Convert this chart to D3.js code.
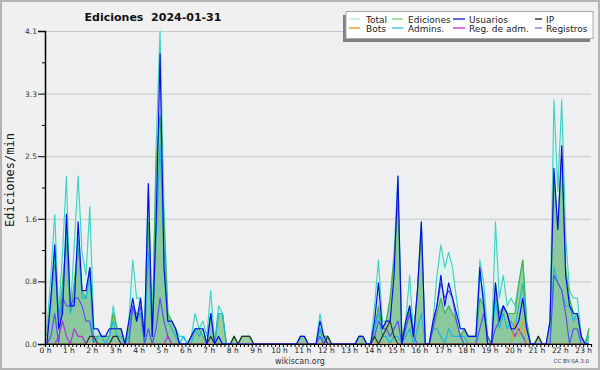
<!DOCTYPE html>
<html>
<head>
<meta charset="utf-8">
<script src="https://cdn.jsdelivr.net/npm/d3@7"></script>
<style>
  body { margin: 0; background: #f0f0f0; }
  svg { display: block; }
</style>
</head>
<body>
<div id="chart"></div>
<script>
// one value per 10-minute bin, 0:00 .. 23:10 (edits per minute)
const slots = d3.range(0, 1400, 10);

const total = [
  0.2, 0.9, 1.7, 0.4, 1.2, 2.2, 0.4, 1.3, 2.2, 1.2, 0.9, 1.8,
  0.2, 0.2, 0.1, 0.1, 0.1, 0.5, 0.2, 0.2, 0.0, 0.3, 1.1, 0.6,
  0.6, 0.1, 2.1, 0.1, 2.6, 4.1, 1.8, 0.4, 0.3, 0.2, 0.1, 0.1,
  0.0, 0.1, 0.4, 0.2, 0.3, 0.1, 0.7, 0.0, 0.5, 0.4, 0.0, 0.0,
  0.1, 0.0, 0.1, 0.1, 0.1, 0.0, 0.0, 0.0, 0.0, 0.0, 0.0, 0.0,
  0.0, 0.0, 0.0, 0.0, 0.0, 0.1, 0.1, 0.0, 0.0, 0.0, 0.4, 0.1,
  0.1, 0.0, 0.0, 0.0, 0.0, 0.0, 0.0, 0.0, 0.1, 0.1, 0.0, 0.0,
  0.5, 1.1, 0.3, 0.3, 0.6, 1.2, 2.2, 0.1, 0.3, 0.9, 0.1, 0.7,
  1.6, 0.0, 0.0, 0.3, 0.9, 1.3, 1.0, 1.2, 1.0, 0.6, 0.2, 0.2,
  0.1, 0.1, 0.1, 1.1, 0.8, 0.1, 0.0, 1.6, 0.6, 0.9, 0.5, 0.6,
  0.5, 0.8, 1.1, 0.3, 0.0, 0.0, 0.1, 0.0, 0.0, 0.3, 3.2, 2.0,
  3.2, 1.4, 0.7, 0.6, 0.6, 0.1, 0.0, 0.2
];
const ediciones = [
  0.1, 0.6, 1.1, 0.3, 0.8, 1.4, 0.4, 0.8, 1.3, 0.7, 0.6, 1.0,
  0.1, 0.1, 0.1, 0.1, 0.1, 0.4, 0.2, 0.2, 0.0, 0.2, 0.5, 0.4,
  0.4, 0.1, 1.6, 0.1, 2.4, 3.0, 1.6, 0.4, 0.3, 0.2, 0.0, 0.0,
  0.0, 0.1, 0.2, 0.2, 0.1, 0.0, 0.4, 0.0, 0.4, 0.4, 0.0, 0.0,
  0.1, 0.0, 0.1, 0.1, 0.1, 0.0, 0.0, 0.0, 0.0, 0.0, 0.0, 0.0,
  0.0, 0.0, 0.0, 0.0, 0.0, 0.1, 0.1, 0.0, 0.0, 0.0, 0.2, 0.1,
  0.1, 0.0, 0.0, 0.0, 0.0, 0.0, 0.0, 0.0, 0.1, 0.1, 0.0, 0.0,
  0.2, 0.5, 0.2, 0.3, 0.6, 1.1, 1.9, 0.1, 0.2, 0.5, 0.1, 0.7,
  1.5, 0.0, 0.0, 0.2, 0.4, 0.6, 0.4, 0.5, 0.4, 0.3, 0.1, 0.2,
  0.1, 0.1, 0.1, 0.6, 0.5, 0.1, 0.0, 0.8, 0.4, 0.5, 0.4, 0.4,
  0.4, 0.8, 1.1, 0.3, 0.0, 0.0, 0.1, 0.0, 0.0, 0.3, 2.2, 1.5,
  2.5, 1.0, 0.6, 0.4, 0.4, 0.1, 0.0, 0.2
];
const usuarios = [
  0.0, 0.6, 1.3, 0.2, 0.4, 1.7, 0.5, 0.5, 1.6, 0.7, 0.7, 1.0,
  0.2, 0.2, 0.1, 0.1, 0.2, 0.2, 0.2, 0.2, 0.0, 0.3, 0.6, 0.3,
  0.6, 0.1, 2.1, 0.1, 1.6, 3.8, 1.0, 0.3, 0.3, 0.2, 0.0, 0.0,
  0.0, 0.1, 0.2, 0.2, 0.2, 0.0, 0.4, 0.0, 0.1, 0.0, 0.0, 0.0,
  0.0, 0.0, 0.0, 0.0, 0.0, 0.0, 0.0, 0.0, 0.0, 0.0, 0.0, 0.0,
  0.0, 0.0, 0.0, 0.0, 0.0, 0.1, 0.1, 0.0, 0.0, 0.0, 0.3, 0.1,
  0.0, 0.0, 0.0, 0.0, 0.0, 0.0, 0.0, 0.0, 0.1, 0.1, 0.0, 0.0,
  0.3, 0.8, 0.2, 0.3, 0.3, 0.9, 2.2, 0.0, 0.3, 0.5, 0.1, 0.7,
  1.6, 0.0, 0.0, 0.3, 0.5, 0.9, 0.5, 0.8, 0.6, 0.4, 0.2, 0.2,
  0.1, 0.1, 0.1, 1.0, 0.5, 0.0, 0.0, 0.8, 0.3, 0.5, 0.4, 0.2,
  0.2, 0.3, 0.6, 0.2, 0.0, 0.0, 0.0, 0.0, 0.0, 0.3, 2.3, 1.5,
  2.6, 0.9, 0.5, 0.4, 0.4, 0.1, 0.0, 0.0
];
const ip = [
  0.0, 0.0, 0.0, 0.0, 0.0, 0.0, 0.0, 0.0, 0.0, 0.0, 0.0, 0.1,
  0.1, 0.0, 0.0, 0.0, 0.0, 0.1, 0.1, 0.0, 0.0, 0.0, 0.0, 0.0,
  0.0, 0.0, 0.0, 0.0, 0.0, 0.0, 0.0, 0.0, 0.0, 0.0, 0.0, 0.0,
  0.0, 0.0, 0.0, 0.0, 0.0, 0.0, 0.1, 0.0, 0.0, 0.0, 0.0, 0.0,
  0.1, 0.0, 0.1, 0.1, 0.1, 0.0, 0.0, 0.0, 0.0, 0.0, 0.0, 0.0,
  0.0, 0.0, 0.0, 0.0, 0.0, 0.0, 0.0, 0.0, 0.0, 0.0, 0.0, 0.0,
  0.1, 0.0, 0.0, 0.0, 0.0, 0.0, 0.0, 0.0, 0.0, 0.0, 0.0, 0.0,
  0.1, 0.0, 0.1, 0.2, 0.3, 0.1, 0.0, 0.0, 0.0, 0.0, 0.0, 0.0,
  0.0, 0.0, 0.0, 0.0, 0.0, 0.0, 0.0, 0.0, 0.0, 0.0, 0.0, 0.0,
  0.0, 0.0, 0.0, 0.0, 0.0, 0.0, 0.0, 0.0, 0.0, 0.0, 0.0, 0.0,
  0.0, 0.0, 0.0, 0.0, 0.0, 0.0, 0.1, 0.0, 0.0, 0.0, 0.0, 0.0,
  0.0, 0.0, 0.0, 0.0, 0.0, 0.0, 0.0, 0.0
];
const bots = [
  0, 0, 0, 0, 0, 0, 0, 0, 0, 0, 0, 0, 0, 0, 0, 0, 0, 0, 0, 0,
  0, 0, 0, 0, 0, 0, 0, 0, 0, 0, 0, 0, 0, 0, 0, 0, 0, 0, 0, 0,
  0, 0, 0, 0, 0, 0, 0, 0, 0, 0, 0, 0, 0, 0, 0, 0, 0, 0, 0, 0,
  0, 0, 0, 0, 0, 0, 0, 0, 0, 0, 0, 0, 0, 0, 0, 0, 0, 0, 0, 0,
  0, 0, 0, 0, 0, 0, 0, 0, 0, 0, 0, 0, 0, 0, 0, 0, 0, 0, 0, 0,
  0, 0, 0, 0, 0, 0, 0, 0, 0, 0, 0, 0, 0, 0, 0, 0, 0, 0, 0, 0,
  0.3, 0.1, 0.3, 0.0, 0, 0, 0, 0, 0, 0, 0, 0, 0, 0, 0, 0, 0, 0, 0, 0
];
const admins = [
  0.1, 0.5, 1.2, 0.3, 0.6, 1.5, 0.4, 0.6, 1.4, 0.6, 0.6, 0.9,
  0.0, 0.1, 0.1, 0.0, 0.1, 0.3, 0.1, 0.1, 0.0, 0.1, 0.5, 0.3,
  0.4, 0.0, 1.2, 0.1, 1.4, 2.6, 1.3, 0.3, 0.2, 0.1, 0.0, 0.1,
  0.0, 0.0, 0.2, 0.1, 0.2, 0.0, 0.4, 0.0, 0.4, 0.4, 0.0, 0.0,
  0.0, 0.0, 0.0, 0.0, 0.0, 0.0, 0.0, 0.0, 0.0, 0.0, 0.0, 0.0,
  0.0, 0.0, 0.0, 0.0, 0.0, 0.0, 0.0, 0.0, 0.0, 0.0, 0.2, 0.0,
  0.0, 0.0, 0.0, 0.0, 0.0, 0.0, 0.0, 0.0, 0.0, 0.0, 0.0, 0.0,
  0.2, 0.4, 0.1, 0.1, 0.0, 0.1, 0.1, 0.0, 0.1, 0.2, 0.0, 0.2,
  0.4, 0.0, 0.0, 0.2, 0.2, 0.1, 0.0, 0.2, 0.1, 0.1, 0.1, 0.1,
  0.0, 0.0, 0.0, 0.9, 0.6, 0.0, 0.0, 0.6, 0.2, 0.4, 0.2, 0.3,
  0.2, 0.5, 0.8, 0.2, 0.0, 0.0, 0.0, 0.0, 0.0, 0.0, 1.0, 0.8,
  0.7, 0.5, 0.5, 0.3, 0.4, 0.1, 0.0, 0.1
];
const regAdm = [
  0.0, 0.0, 0.0, 0.1, 0.3, 0.1, 0.0, 0.2, 0.1, 0.1, 0.0, 0.0,
  0, 0, 0, 0, 0, 0, 0, 0, 0, 0, 0, 0, 0, 0, 0, 0, 0, 0, 0, 0.1,
  0, 0, 0, 0, 0, 0, 0, 0, 0, 0, 0, 0, 0, 0, 0, 0, 0, 0, 0, 0,
  0, 0, 0, 0, 0, 0, 0, 0, 0, 0, 0, 0, 0, 0, 0, 0, 0, 0, 0, 0,
  0, 0, 0, 0, 0, 0, 0, 0, 0, 0, 0, 0, 0, 0, 0, 0, 0, 0, 0, 0,
  0, 0, 0, 0, 0, 0, 0, 0, 0, 0, 0, 0, 0, 0, 0, 0, 0, 0, 0, 0,
  0, 0, 0, 0, 0, 0, 0, 0, 0, 0, 0, 0, 0, 0, 0, 0
];
const registros = [
  0.0, 0.1, 0.4, 0.0, 0.6, 0.5, 0.5, 0.6, 0.6, 0.5, 0.3, 0.3,
  0.0, 0.0, 0.0, 0.0, 0.0, 0.0, 0.0, 0.0, 0.0, 0.0, 0.5, 0.3,
  0.5, 0.0, 0.2, 0.0, 0.2, 0.6, 0.3, 0.1, 0.0, 0.0, 0.0, 0.0,
  0.0, 0.0, 0.0, 0.0, 0.0, 0.0, 0.0, 0.0, 0.0, 0.0, 0.0, 0.0,
  0.0, 0.0, 0.0, 0.0, 0.0, 0.0, 0.0, 0.0, 0.0, 0.0, 0.0, 0.0,
  0.0, 0.0, 0.0, 0.0, 0.0, 0.0, 0.0, 0.0, 0.0, 0.0, 0.1, 0.0,
  0.0, 0.0, 0.0, 0.0, 0.0, 0.0, 0.0, 0.0, 0.0, 0.0, 0.0, 0.0,
  0.1, 0.3, 0.2, 0.2, 0.1, 0.2, 0.3, 0.0, 0.2, 0.4, 0.1, 0.0,
  0.0, 0.0, 0.0, 0.2, 0.5, 0.8, 0.6, 0.7, 0.6, 0.3, 0.1, 0.0,
  0.0, 0.0, 0.0, 0.2, 0.4, 0.1, 0.0, 0.2, 0.3, 0.5, 0.4, 0.2,
  0.1, 0.2, 0.1, 0.0, 0.0, 0.0, 0.0, 0.0, 0.0, 0.0, 0.9, 0.8,
  0.7, 0.4, 0.0, 0.2, 0.2, 0.0, 0.0, 0.0
];

const hourLabels = ['0 h', '1 h', '2 h', '3 h', '4 h', '5 h', '6 h', '7 h', '8 h', '9 h',
  '10 h', '11 h', '12 h', '13 h', '14 h', '15 h', '16 h', '17 h', '18 h', '19 h',
  '20 h', '21 h', '22 h', '23 h'];
const yTicks = [0, 0.82, 1.64, 2.46, 3.28, 4.1];
const yMinor = [0.41, 1.23, 2.05, 2.87, 3.69];

const legendItems = [
  { name: 'Total', color: '#b4ece4', col: 0, row: 0 },
  { name: 'Ediciones', color: '#88d488', col: 1, row: 0 },
  { name: 'Usuarios', color: '#3434dc', col: 2, row: 0 },
  { name: 'IP', color: '#333333', col: 3, row: 0 },
  { name: 'Bots', color: '#f4a030', col: 0, row: 1 },
  { name: 'Admins.', color: '#44cce0', col: 1, row: 1 },
  { name: 'Reg. de adm.', color: '#d044e0', col: 2, row: 1 },
  { name: 'Registros', color: '#8484ee', col: 3, row: 1 }
];

const w = 600, h = 370;
const plotL = 45, plotR = 591, plotT = 31, plotB = 344;

const svg = d3.select('#chart').append('svg')
  .attr('width', w)
  .attr('height', h);

svg.append('rect')
  .attr('x', 1).attr('y', 1)
  .attr('width', w - 2).attr('height', h - 2)
  .attr('fill', '#f0f0f0')
  .attr('stroke', '#b4b4b4')
  .attr('stroke-width', 2);

const x = d3.scaleLinear().domain([0, 1400]).range([plotL, plotR]);
const y = d3.scaleLinear().domain([0, 4.1]).range([plotB, plotT]);

svg.append('rect')
  .attr('x', plotL).attr('y', plotT)
  .attr('width', plotR - plotL).attr('height', plotB - plotT)
  .attr('fill', '#edeff1');

// grid
svg.append('g')
  .attr('transform', `translate(${plotL},0)`)
  .call(d3.axisLeft(y).tickValues(yTicks).tickSize(-(plotR - plotL)).tickFormat(''))
  .call(g => g.select('.domain').remove())
  .call(g => g.selectAll('line').attr('stroke', '#c8c8c8'));

const px = (d, i) => x(slots[i] + 5);
const area = vals => d3.area()
  .x((d, i) => px(d, i))
  .y0(y(0))
  .y1(d => y(d))(vals);
const line = vals => d3.line()
  .x((d, i) => px(d, i))
  .y(d => y(d))(vals);

svg.append('path').attr('d', area(total)).attr('fill', '#dcf3ee');
svg.append('path').attr('d', area(usuarios)).attr('fill', 'rgba(70,120,230,0.14)');
svg.append('path').attr('d', area(ediciones)).attr('fill', 'rgba(84,176,84,0.52)');

const lines = [
  [total, '#3cd4c4'],
  [ediciones, '#44b444'],
  [admins, '#18b8e4'],
  [registros, '#5252f0'],
  [regAdm, '#b030e0'],
  [bots, '#f49a20'],
  [ip, '#303030'],
  [usuarios, '#0a0ae6']
];
lines.forEach(([vals, color]) => {
  svg.append('path')
    .attr('d', line(vals))
    .attr('fill', 'none')
    .attr('stroke', color)
    .attr('stroke-width', 1.15)
    .attr('stroke-linejoin', 'round');
});

// y axis
svg.append('g')
  .attr('transform', `translate(${plotL},0)`)
  .call(d3.axisLeft(y).tickValues(yMinor).tickSize(3).tickFormat(''))
  .call(g => g.select('.domain').remove());
const yAxis = svg.append('g')
  .attr('transform', `translate(${plotL},0)`)
  .call(d3.axisLeft(y).tickValues(yTicks).tickSize(7).tickPadding(1).tickFormat(d3.format('.1f')));
yAxis.select('.domain').attr('stroke-width', 1.5);
yAxis.selectAll('text')
  .attr('font-family', 'DejaVu Sans')
  .attr('font-size', 7.5)
  .attr('fill', '#333');

// x axis
const xAxis = svg.append('g')
  .attr('transform', `translate(0,${plotB})`)
  .call(d3.axisBottom(x)
    .tickValues(d3.range(0, 1401, 10))
    .tickSize(3)
    .tickPadding(1)
    .tickFormat(d => (d % 60 === 0 && d / 60 < 24) ? hourLabels[d / 60] : ''));
xAxis.select('.domain').attr('stroke-width', 1.2);
xAxis.selectAll('text')
  .attr('font-family', 'DejaVu Sans')
  .attr('font-size', 7.5)
  .attr('fill', '#222');

// title and labels
svg.append('text')
  .attr('x', 153).attr('y', 21)
  .attr('text-anchor', 'middle')
  .attr('font-family', 'DejaVu Sans')
  .attr('font-weight', 'bold')
  .attr('font-size', 11)
  .attr('fill', '#111')
  .attr('xml:space', 'preserve')
  .text('Ediciones  2024-01-31');

svg.append('text')
  .attr('transform', 'translate(14,180) rotate(-90)')
  .attr('text-anchor', 'middle')
  .attr('font-family', 'DejaVu Sans Mono')
  .attr('font-size', 12)
  .attr('fill', '#111')
  .text('Ediciones/min');

svg.append('text')
  .attr('x', 300).attr('y', 364)
  .attr('text-anchor', 'middle')
  .attr('font-family', 'DejaVu Sans')
  .attr('font-size', 8)
  .attr('fill', '#333')
  .text('wikiscan.org');

svg.append('text')
  .attr('x', 589).attr('y', 363)
  .attr('text-anchor', 'end')
  .attr('font-family', 'DejaVu Sans')
  .attr('font-size', 5.5)
  .attr('fill', '#333')
  .text('CC BY-SA  3.0');

// legend
const lg = svg.append('g');
lg.append('rect')
  .attr('x', 343).attr('y', 15)
  .attr('width', 247).attr('height', 27)
  .attr('fill', '#808080');
lg.append('rect')
  .attr('x', 346).attr('y', 11.5)
  .attr('width', 247).attr('height', 27)
  .attr('fill', '#ffffff')
  .attr('stroke', '#a8a8a8')
  .attr('stroke-width', 1);

const colSwatch = [349, 392, 453, 535];
const colSwatchW = [11, 11, 12, 7];
const colText = [366, 408, 469, 546];
const rowY = [23, 32];
legendItems.forEach(d => {
  lg.append('line')
    .attr('x1', colSwatch[d.col]).attr('x2', colSwatch[d.col] + colSwatchW[d.col])
    .attr('y1', rowY[d.row] - 4).attr('y2', rowY[d.row] - 4)
    .attr('stroke', d.color)
    .attr('stroke-width', 1.5);
  lg.append('text')
    .attr('x', colText[d.col]).attr('y', rowY[d.row])
    .attr('font-family', 'DejaVu Sans')
    .attr('font-size', 9)
    .attr('fill', '#222')
    .text(d.name);
});
</script>
</body>
</html>
